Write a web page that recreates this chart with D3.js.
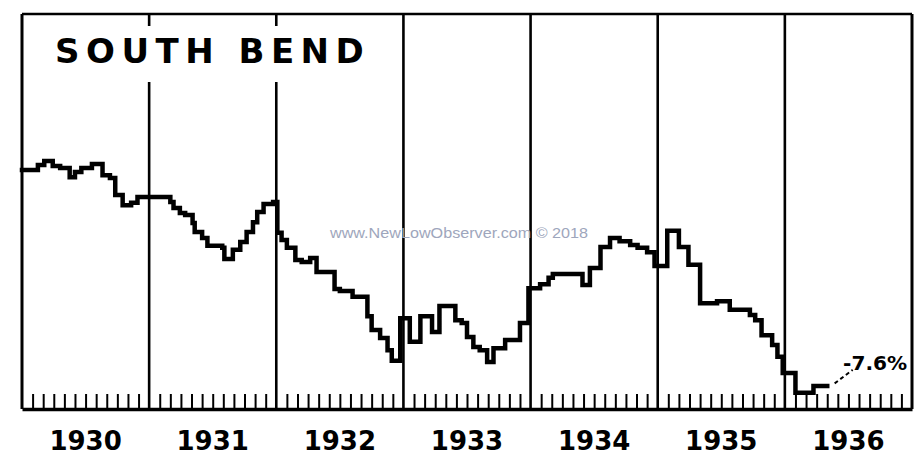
<!DOCTYPE html>
<html><head><meta charset="utf-8">
<script src="https://cdn.jsdelivr.net/npm/d3@7"></script>
<style>body{margin:0;background:#fff}svg{display:block}</style>
</head><body>
<svg id="c" width="922" height="467"></svg>
<script>
// ---- data (months since Jan 1930, index value) ----
const title = "SOUTH BEND";
const yearLabels = ["1930","1931","1932","1933","1934","1935","1936"];
const stepMonths = [0,1.5,2.1,2.9,3.6,4.5,5.0,5.6,6.6,7.6,8.3,8.8,9.5,10.3,10.9,
  14.0,14.3,14.9,15.4,16.1,16.3,17.0,17.5,18.9,19.1,19.9,20.6,21.2,21.8,22.2,22.8,23.7,
  24.1,24.5,25.0,25.8,26.4,27.2,27.8,29.5,30.0,31.2,32.6,33.0,33.8,34.5,34.9,
  35.7,36.6,37.6,38.7,39.4,40.9,41.5,42.0,42.6,43.2,43.9,44.5,45.6,47.0,
  47.8,48.9,49.7,50.1,52.9,53.6,54.6,55.5,56.4,57.4,58.1,59.0,59.7,
  60.9,62.0,62.9,64.0,65.6,66.8,68.7,69.2,69.8,70.8,71.3,71.8,73.0,74.7];
const stepValues = [60.5,61.8,62.8,61.5,61.0,58.7,60.0,61.0,62.0,59.2,58.5,54.2,51.6,52.2,53.7,
  52.4,50.9,49.6,49.1,47.1,44.8,43.3,41.3,40.8,38.0,40.3,42.3,44.8,47.3,49.9,51.9,52.4,
  44.6,42.8,40.8,37.7,37.2,38.2,34.7,30.4,29.9,28.4,23.5,20.0,18.0,14.9,12.2,
  23.0,17.0,23.5,19.5,26.1,22.5,21.8,18.2,15.7,14.9,11.9,15.4,17.5,21.8,
  30.6,31.6,33.2,34.2,31.4,35.7,41.0,43.3,42.5,41.5,40.8,39.7,36.2,
  45.1,41.0,36.5,26.8,27.3,25.1,23.8,22.5,18.7,16.2,13.2,9.1,4.1,5.8];
const endMonth = 76.0;
const annotation = "-7.6%";
const watermark = "www.NewLowObserver.com \u00A9 2018";

// ---- layout ----
const padL = 22, padR = 912, padT = 14, padB = 409;
const svg = d3.select("#c");
const x = d3.scaleLinear().domain([0, 84]).range([padL, padR]);
const y = d3.scaleLinear().domain([0, 100]).range([padB, padT]);
const yearBand = d3.scaleBand().domain(yearLabels).range([padL, padR]);

// frame
svg.append("line").attr("x1", padL).attr("x2", padR).attr("y1", padT).attr("y2", padT)
  .attr("stroke", "#000").attr("stroke-width", 2.5);
svg.append("line").attr("x1", padL).attr("x2", padL).attr("y1", padT).attr("y2", padB)
  .attr("stroke", "#000").attr("stroke-width", 3);
svg.append("line").attr("x1", padR).attr("x2", padR).attr("y1", padT).attr("y2", padB)
  .attr("stroke", "#000").attr("stroke-width", 3);

// year dividers
const divMonths = d3.range(12, 84, 12);
svg.selectAll("line.div").data(divMonths).join("line").attr("class", "div")
  .attr("x1", d => x(d)).attr("x2", d => x(d)).attr("y1", padT).attr("y2", padB)
  .attr("stroke", "#000").attr("stroke-width", 2.6);

// white box behind title
svg.append("rect").attr("x", 30).attr("y", 26).attr("width", 365).attr("height", 56).attr("fill", "#fff");
svg.append("text").attr("x", 55).attr("y", 63).text(title)
  .attr("font-family", "DejaVu Sans").attr("font-weight", "bold").attr("font-size", 34)
  .attr("letter-spacing", 6.5).attr("fill", "#000");

// month ticks + baseline
const tickMonths = d3.range(1, 84).filter(m => m % 12 !== 0);
const axis = d3.axisBottom(x).tickValues(tickMonths).tickSizeInner(-15).tickSizeOuter(0).tickFormat("");
const gAxis = svg.append("g").attr("transform", `translate(0,${padB})`).call(axis);
gAxis.select(".domain").attr("stroke", "#000").attr("stroke-width", 3.5);
gAxis.selectAll(".tick line").attr("stroke", "#000").attr("stroke-width", 2);

// year labels
svg.selectAll("text.yr").data(yearLabels).join("text").attr("class", "yr")
  .attr("x", d => yearBand(d) + yearBand.bandwidth() / 2).attr("y", 450)
  .attr("text-anchor", "middle").text(d => d)
  .attr("font-family", "DejaVu Sans").attr("font-weight", "bold").attr("font-size", 26)
  .attr("fill", "#000");

// step line
const pts = stepMonths.map((m, i) => [m, stepValues[i]]);
pts.push([endMonth, stepValues[stepValues.length - 1]]);
const line = d3.line().x(d => x(d[0])).y(d => y(d[1])).curve(d3.curveStepAfter);
svg.append("path").attr("d", line(pts)).attr("fill", "none").attr("stroke", "#000")
  .attr("stroke-width", 4.5).attr("stroke-linejoin", "miter").attr("stroke-linecap", "square");

// annotation
svg.append("line").attr("x1", x(76.7)).attr("y1", y(6.5)).attr("x2", x(78.4)).attr("y2", y(9.9))
  .attr("stroke", "#000").attr("stroke-width", 2).attr("stroke-dasharray", "4,3");
svg.append("text").attr("x", x(77.5)).attr("y", y(9.8)).text(annotation)
  .attr("font-family", "DejaVu Sans").attr("font-weight", "bold").attr("font-size", 20)
  .attr("textLength", 64).attr("lengthAdjust", "spacingAndGlyphs").attr("fill", "#000");

// watermark
svg.append("text").attr("x", 330).attr("y", 238).text(watermark)
  .attr("font-family", "Liberation Sans, Arial").attr("font-size", 15)
  .attr("textLength", 258).attr("lengthAdjust", "spacingAndGlyphs").attr("fill", "#9ea6bc");
</script>
</body></html>
